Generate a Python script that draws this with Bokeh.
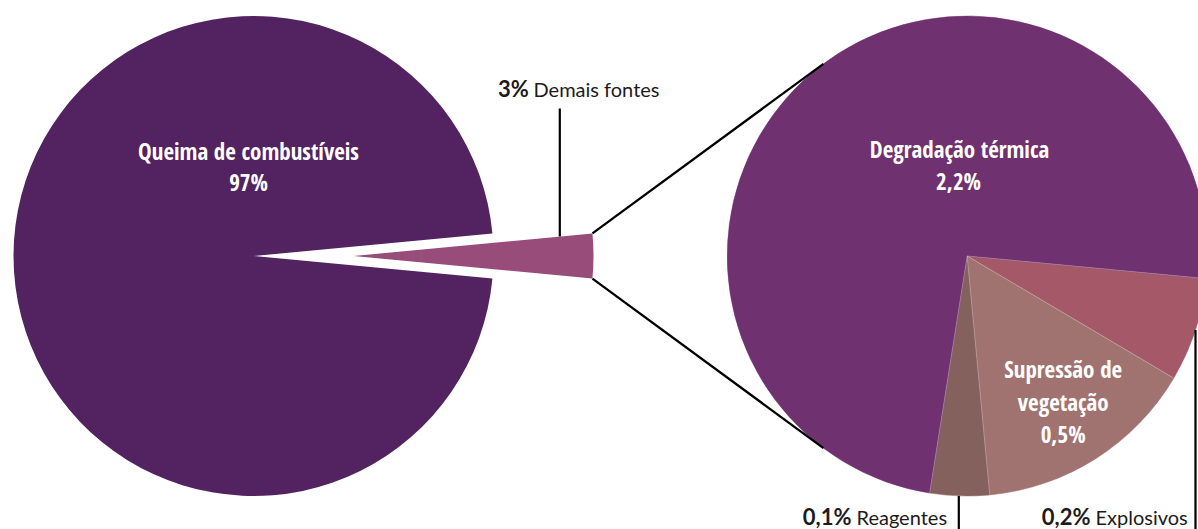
import numpy as np
from bokeh.plotting import figure
from bokeh.models import Range1d, ColumnDataSource
from bokeh.core.properties import value
from bokeh.embed import file_html
from bokeh.resources import INLINE

# ---------------- data ----------------
left_categories = ["Queima de combustíveis", "Demais fontes"]
left_values = [97.0, 3.0]
left_labels = ["97%", "3%"]

right_categories = ["Explosivos", "Supressão de vegetação", "Reagentes", "Degradação térmica"]
right_values = [0.21, 0.45, 0.12, 2.22]
right_labels = ["0,2%", "0,5%", "0,1%", "2,2%"]

# ---------------- styles ----------------
left_colors = ["#522360", "#974c7a"]
right_colors = ["#a55868", "#a17370", "#85615e", "#6f3170"]
BOLD_COND = "Open Sans Condensed"
REG = "Lato"
DARK = "#1d1a1c"

W, H = 1198, 529
BASE_SHIFT = 0.35  # compensation for text baseline placement (em)


def X(ix):
    return ix


def Y(iy):
    return H - iy


p = figure(width=W, height=H, x_range=Range1d(0, W), y_range=Range1d(0, H),
           output_backend="svg", toolbar_location=None,
           x_axis_type=None, y_axis_type=None, min_border=0)
p.outline_line_color = None
p.grid.visible = False
p.background_fill_color = "white"
p.border_fill_color = "white"

R = 240.0
# left pie
lcx, lcy = X(253), Y(255.5)
explode = 100.0
ltot = sum(left_values)
half = left_values[1] / ltot * np.pi
p.wedge(x=[lcx], y=[lcy], radius=R, start_angle=[half], end_angle=[2 * np.pi - half],
        direction="anticlock", fill_color=left_colors[0], line_color=None)
scx = lcx + explode
p.wedge(x=[scx], y=[lcy], radius=R, start_angle=[-half], end_angle=[half],
        direction="anticlock", fill_color=left_colors[1], line_color=None)

# right pie
rcx, rcy = X(966.7), Y(255.5)
rtot = sum(right_values)
off = np.deg2rad(-5.4)
cum = np.concatenate([[0], np.cumsum(right_values)]) / rtot * 2 * np.pi
rsrc = ColumnDataSource(dict(
    start=[off - cum[i + 1] for i in range(len(right_values))],
    end=[off - cum[i] for i in range(len(right_values))],
    color=right_colors, cat=right_categories))
p.wedge(x=rcx, y=rcy, radius=R, start_angle="start", end_angle="end",
        direction="anticlock", fill_color="color", line_color="color",
        line_width=0.5, source=rsrc)
# faint separators
for a in cum[:-1]:
    ang = off - a
    p.line([rcx, rcx + R * np.cos(ang)], [rcy, rcy + R * np.sin(ang)],
           line_color="white", line_alpha=0.35, line_width=0.8)

# connector lines
conn_ang = np.deg2rad(126.8)
for s in (1, -1):
    x0 = scx + R * np.cos(half)
    y0 = lcy + s * R * np.sin(half)
    x1 = rcx + R * np.cos(s * conn_ang)
    y1 = rcy + R * np.sin(s * conn_ang)
    p.line([x0, x1], [y0, y1], line_color="black", line_width=2.3)

# leader lines
lx = X(559.3)
edge_y = lcy + (lx - scx) * np.tan(half)
p.line([lx, lx], [Y(108), edge_y], line_color="black", line_width=2.2)
for ix in (958.3, 1195.0):
    xx = X(ix)
    dy = np.sqrt(R ** 2 - (xx - rcx) ** 2)
    p.line([xx, xx], [rcy - dy, Y(529)], line_color="black", line_width=2.2)


def fy(iy, size):
    return Y(iy) + BASE_SHIFT * size


# white labels inside
def wtext(ix, iy, t, size):
    p.text(x=[X(ix)], y=[fy(iy, size)], text=[t], text_color="white",
           text_font=value(BOLD_COND), text_font_style="bold",
           text_font_size=f"{size}px", text_align="center", text_baseline="alphabetic")


wtext(248, 158.3, left_categories[0], 23)
wtext(248, 190, left_labels[0], 23)
wtext(959, 156.7, right_categories[3], 23)
wtext(958, 188.3, right_labels[3], 23)
wtext(1062.7, 376.7, "Supressão de", 23)
wtext(1062.7, 410, "vegetação", 23)
wtext(1062.7, 441.7, right_labels[1], 23)


# outside labels
def otext(bx_end, rx_start, iy, bold, reg):
    p.text(x=[X(bx_end)], y=[fy(iy, 21)], text=[bold], text_color=DARK,
           text_font=value(REG), text_font_style="bold", text_font_size="22px",
           text_align="right", text_baseline="alphabetic")
    p.text(x=[X(rx_start)], y=[fy(iy, 20)], text=[reg], text_color=DARK,
           text_font=value(REG), text_font_size="20px",
           text_align="left", text_baseline="alphabetic")


otext(528.3, 533, 95, left_labels[1], left_categories[1])
otext(851, 856, 523.5, right_labels[2], right_categories[2])
otext(1090, 1095, 523.5, right_labels[0], right_categories[0])

open("out.html", "w").write(file_html(p, INLINE))
